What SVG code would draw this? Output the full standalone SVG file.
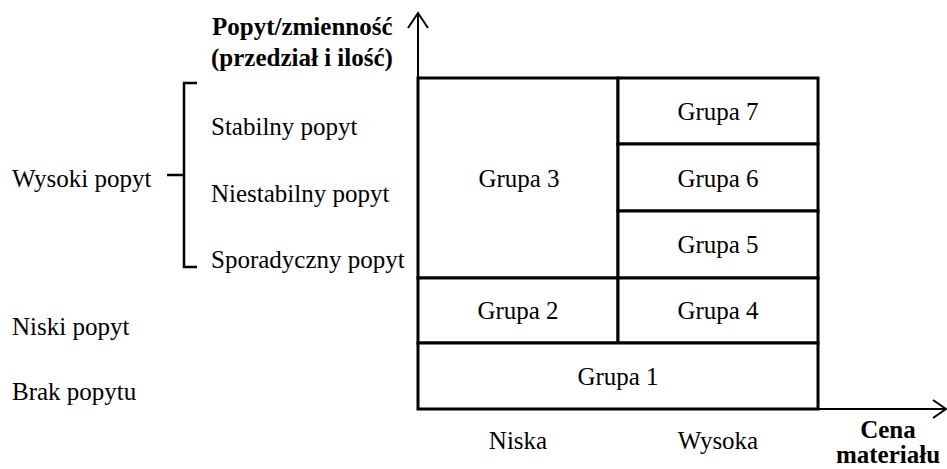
<svg xmlns="http://www.w3.org/2000/svg" width="947" height="469" viewBox="0 0 947 469">
  <style>
    text { font-family: "Liberation Serif", "Times New Roman", Times, serif; font-size: 25px; fill: #000; }
    .b { font-weight: bold; }
    .c { text-anchor: middle; }
    .cell { fill: #fff; stroke: #000; stroke-width: 3; }
    .axis { fill: none; stroke: #000; stroke-width: 2; }
    .brace { fill: none; stroke: #000; stroke-width: 2.5; }
  </style>
  <rect width="947" height="469" fill="#fff"/>

  <!-- axes -->
  <g id="connectors">
    <path class="axis" d="M418 78 V14"/>
    <path class="axis" d="M408 28 L418 13 L428 28"/>
    <path class="axis" d="M818 409 H945"/>
    <path class="axis" d="M933 400 L946 409 L933 418"/>
    <!-- brace grouping the high-demand rows -->
    <path class="brace" d="M197 83 H184 V267 H197 M167 175 H184"/>
  </g>

  <!-- axis titles -->
  <g id="y-title">
    <text class="b" x="212" y="35">Popyt/zmienność</text>
    <text class="b" x="211" y="66">(przedział i ilość)</text>
  </g>
  <g id="x-title">
    <text class="b c" x="888" y="438">Cena</text>
    <text class="b c" x="888" y="463" font-size="24">materiału</text>
  </g>

  <!-- row labels -->
  <g id="row-labels">
    <text x="12" y="187">Wysoki popyt</text>
    <text x="211" y="135">Stabilny popyt</text>
    <text x="211" y="202">Niestabilny popyt</text>
    <text x="211" y="268">Sporadyczny popyt</text>
    <text x="12" y="335">Niski popyt</text>
    <text x="12" y="400">Brak popytu</text>
  </g>

  <!-- column labels -->
  <g id="col-labels">
    <text class="c" x="518" y="449">Niska</text>
    <text class="c" x="718" y="449">Wysoka</text>
  </g>

  <!-- group cells -->
  <g id="grupa-3">
    <rect class="cell" x="418" y="78" width="200" height="200"/>
    <text class="c" x="519" y="187">Grupa 3</text>
  </g>
  <g id="grupa-7">
    <rect class="cell" x="618" y="78" width="200" height="66"/>
    <text class="c" x="718" y="120">Grupa 7</text>
  </g>
  <g id="grupa-6">
    <rect class="cell" x="618" y="144" width="200" height="67"/>
    <text class="c" x="718" y="187">Grupa 6</text>
  </g>
  <g id="grupa-5">
    <rect class="cell" x="618" y="211" width="200" height="67"/>
    <text class="c" x="718" y="253">Grupa 5</text>
  </g>
  <g id="grupa-2">
    <rect class="cell" x="418" y="278" width="200" height="65"/>
    <text class="c" x="518" y="319">Grupa 2</text>
  </g>
  <g id="grupa-4">
    <rect class="cell" x="618" y="278" width="200" height="65"/>
    <text class="c" x="718" y="319">Grupa 4</text>
  </g>
  <g id="grupa-1">
    <rect class="cell" x="418" y="343" width="400" height="66"/>
    <text class="c" x="618" y="385">Grupa 1</text>
  </g>
</svg>
